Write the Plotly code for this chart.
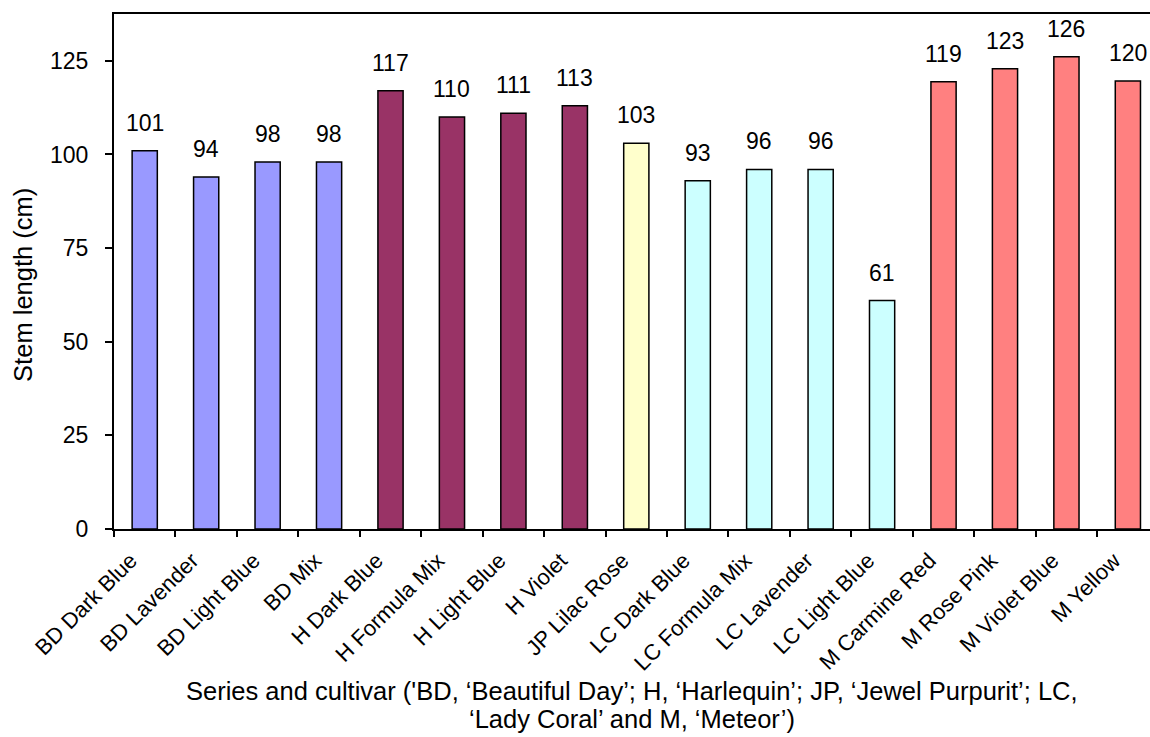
import plotly.graph_objects as go

categories = ["BD Dark Blue", "BD Lavender", "BD Light Blue", "BD Mix",
              "H Dark Blue", "H Formula Mix", "H Light Blue", "H Violet",
              "JP Lilac Rose", "LC Dark Blue", "LC Formula Mix", "LC Lavender",
              "LC Light Blue", "M Carmine Red", "M Rose Pink", "M Violet Blue", "M Yellow"]
stem_length = [101, 94, 98, 98, 117, 110, 111, 113, 103, 93, 96, 96, 61,
               119.4, 122.9, 126.1, 119.6]
series = ["BD", "BD", "BD", "BD", "H", "H", "H", "H", "JP", "LC", "LC", "LC", "LC",
          "M", "M", "M", "M"]
series_colors = {"BD": "#9999FF", "H": "#993366", "JP": "#FFFFCC",
                 "LC": "#CCFFFF", "M": "#FF8080"}
y_ticks = [0, 25, 50, 75, 100, 125]
x_title_lines = ["Series and cultivar ('BD, \u2018Beautiful Day\u2019; H, \u2018Harlequin\u2019; JP, \u2018Jewel Purpurit\u2019; LC,",
                 "\u2018Lady Coral\u2019 and M, \u2018Meteor\u2019)"]
y_title = "Stem length (cm)"

FONT = "Liberation Sans, Arial, sans-serif"

fig = go.Figure()
fig.add_trace(go.Bar(
    x=categories, y=stem_length,
    marker=dict(color=[series_colors[s] for s in series],
                line=dict(color="black", width=1.5)),
    width=0.41, showlegend=False, hoverinfo="x+y",
))

for c, v in zip(categories, stem_length):
    fig.add_annotation(x=c, y=v, text=f"{v:.0f}", showarrow=False,
                       yanchor="bottom", yshift=13,
                       font=dict(family=FONT, size=23, color="black"))

# y-axis title
fig.add_annotation(text=y_title, xref="paper", yref="paper",
                   x=0, y=0.474, xanchor="center", yanchor="middle",
                   xshift=-91, textangle=-90, showarrow=False,
                   font=dict(family=FONT, size=25.5, color="black"))

# x-axis title (two lines)
for line, shift in zip(x_title_lines, [-162, -190]):
    fig.add_annotation(text=line, xref="paper", yref="paper", x=0.5, y=0,
                       xanchor="center", yanchor="middle", yshift=shift,
                       showarrow=False,
                       font=dict(family=FONT, size=25.5, color="black"))

fig.update_layout(
    width=1150, height=737,
    margin=dict(l=114, r=0, t=14, b=208),
    paper_bgcolor="white", plot_bgcolor="white",
    font=dict(family=FONT, color="black"),
    xaxis=dict(
        type="category", range=[-0.5, 16.36],
        showline=True, linecolor="black", linewidth=2, mirror=True,
        ticks="outside", tickson="boundaries", ticklen=6, tickwidth=1.5, tickcolor="black",
        tickangle=-45, tickfont=dict(family=FONT, size=22, color="black"),
        ticklabelshift=-14, ticklabelstandoff=8,
        showgrid=False, zeroline=False,
    ),
    yaxis=dict(
        range=[0, 137.5], tickvals=y_ticks,
        showline=True, linecolor="black", linewidth=2,
        ticks="outside", ticklen=7, tickwidth=1.5, tickcolor="black",
        ticklabelstandoff=12,
        tickfont=dict(family=FONT, size=23, color="black"),
        showgrid=False, zeroline=False,
    ),
)

fig.write_html("out.html")
